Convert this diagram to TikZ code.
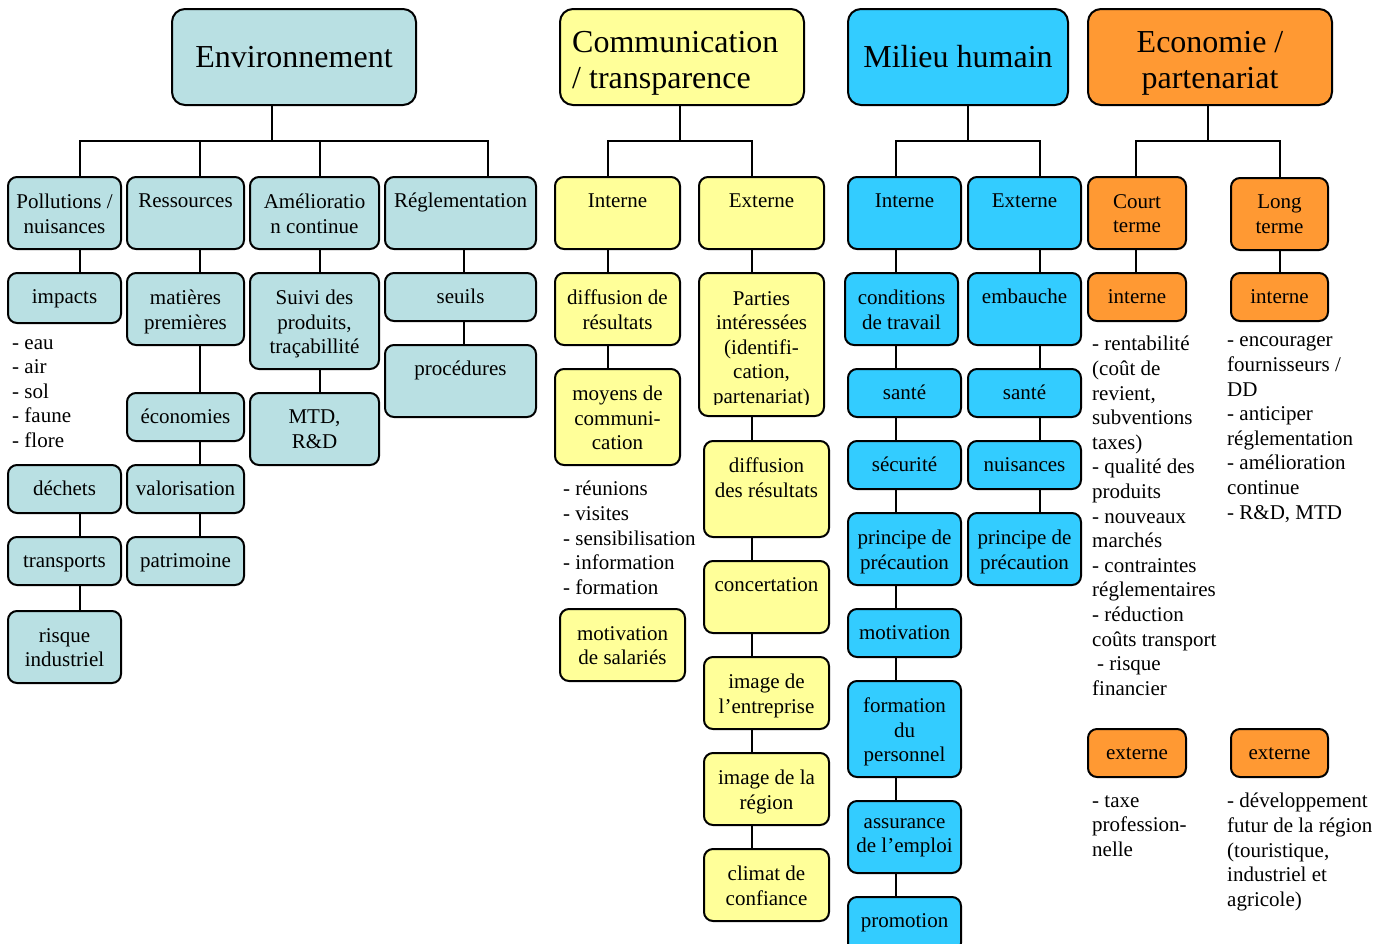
\documentclass[tikz,border=0pt]{standalone}
\usepackage{fontspec}
\setmainfont{Liberation Serif}
\definecolor{envc}{RGB}{185,224,227}
\definecolor{comc}{RGB}{255,255,153}
\definecolor{milc}{RGB}{51,204,255}
\definecolor{ecoc}{RGB}{255,153,51}
% #1 text yshift, #2 name, #3 style, #4 x1, #5 y1, #6 x2, #7 y2, #8 text
\newcommand\mybox[8][17]{%
  \pgfmathsetmacro\mbw{#6-#4}%
  \pgfmathsetmacro\mbh{#7-#5}%
  \node[#3, minimum width=\mbw pt, minimum height=\mbh pt] (#2) at ({(#4+#6)/2},{(#5+#7)/2}) {};%
  \node[txt, anchor=north] (#2t) at ([yshift=-#1pt]#2.north) {#8};%
}
\begin{document}
\begin{tikzpicture}[x=1pt,y=-1pt,
  box/.style={draw=black, line width=2pt, rounded corners=9pt, rectangle, outer sep=0pt, inner sep=0pt},
  eb/.style={box, fill=envc},
  yb/.style={box, fill=comc},
  cb/.style={box, fill=milc},
  ob/.style={box, fill=ecoc},
  tb/.style={rounded corners=13pt},
  txt/.style={align=center, inner sep=0pt, font=\fontsize{21}{24.5}\selectfont, execute at begin node=\strut},
  ttl/.style={align=center, inner sep=0pt, font=\fontsize{32}{36}\selectfont, execute at begin node=\strut},
  lst/.style={align=left, inner sep=0pt, anchor=north west, font=\fontsize{21}{24.6}\selectfont, execute at begin node=\strut},
  conn/.style={line width=2pt, draw=black}]
\useasboundingbox (0,0) rectangle (1389,943);

% column x positions
\coordinate (cA) at (80,0);
\coordinate (cB) at (200,0);
\coordinate (cC) at (320,0);
\coordinate (cD) at (464,0);
\coordinate (cDD) at (488,0);
\coordinate (cE) at (608,0);
\coordinate (cF) at (752,0);
\coordinate (cG) at (896,0);
\coordinate (cH) at (1040,0);
\coordinate (cI) at (1136,0);
\coordinate (cJ) at (1280,0);
% bus junctions
\coordinate (envb) at (272,141);
\coordinate (comb) at (680,141);
\coordinate (milb) at (968,141);
\coordinate (ecob) at (1208,141);

% ---------- titles ----------
\node[eb, tb, minimum width=244pt, minimum height=96pt] (env) at (294,57) {};
\node[ttl, anchor=north] (envt) at ([yshift=-33pt]env.north) {Environnement};
\node[yb, tb, minimum width=244pt, minimum height=96pt] (com) at (682,57) {};
\node[ttl, align=left, anchor=north west] (comt) at ([xshift=12pt,yshift=-22.5pt]com.north west) {Communication\\/ transparence};
\node[cb, tb, minimum width=220pt, minimum height=96pt] (mil) at (958,57) {};
\node[ttl, anchor=north] (milt) at ([yshift=-33pt]mil.north) {Milieu humain};
\node[ob, tb, minimum width=244pt, minimum height=96pt] (ecb) at (1210,57) {};
\node[ttl, anchor=north] (ecbt) at ([yshift=-22.5pt]ecb.north) {Economie /\\partenariat};

% ---------- Environnement ----------
\mybox{pol}{eb}{8}{177}{121}{249}{Pollutions /\\nuisances}
\mybox[13]{res}{eb}{127}{177}{244}{249}{Ressources}
\mybox{ame}{eb}{250}{177}{379}{249}{Amélioratio\\n continue}
\mybox[13]{reg}{eb}{385}{177}{536}{249}{Réglementation}
\mybox[13]{imp}{eb}{8}{273}{121}{323}{impacts}
\mybox[13]{dec}{eb}{8}{465}{121}{513}{déchets}
\mybox[13]{tra}{eb}{8}{537}{121}{585}{transports}
\mybox{ris}{eb}{8}{611}{121}{683}{risque\\industriel}
\mybox{mat}{eb}{127}{273}{244}{345}{matières\\premières}
\mybox[13]{ecn}{eb}{127}{393}{244}{441}{économies}
\mybox[13]{val}{eb}{127}{465}{244}{513}{valorisation}
\mybox[13]{pat}{eb}{127}{537}{244}{585}{patrimoine}
\mybox{sui}{eb}{250}{273}{379}{369}{Suivi des\\produits,\\traçabillité}
\mybox{mtd}{eb}{250}{393}{379}{465}{MTD,\\R\&D}
\mybox[13]{seu}{eb}{385}{273}{536}{321}{seuils}
\mybox[13]{pro}{eb}{385}{345}{536}{417}{procédures}
\node[lst] (l1) at (12,339) {- eau\\- air\\- sol\\- faune\\- flore};

% ---------- Communication ----------
\mybox[13]{cin}{yb}{555}{177}{680}{249}{Interne}
\mybox[13]{cex}{yb}{699}{177}{824}{249}{Externe}
\mybox{dif}{yb}{555}{273}{680}{345}{diffusion de\\résultats}
\mybox{moy}{yb}{555}{369}{680}{465}{moyens de\\communi-\\cation}
\mybox{mot}{yb}{560}{609}{685}{681}{motivation\\de salariés}
\node[yb, minimum width=125pt, minimum height=143pt] (par) at (761.5,344.5) {};
\begin{scope}
  \clip ([yshift=12pt]par.south west) rectangle (par.north east);
  \node[txt, anchor=north] (part) at ([yshift=-18pt]par.north) {Parties\\intéressées\\(identifi-\\cation,\\partenariat)};
\end{scope}
\mybox{drs}{yb}{704}{441}{829}{537}{diffusion\\des résultats}
\mybox[13]{con}{yb}{704}{561}{829}{633}{concertation}
\mybox{ime}{yb}{704}{657}{829}{729}{image de\\l’entreprise}
\mybox{imr}{yb}{704}{753}{829}{825}{image de la\\région}
\mybox{cli}{yb}{704}{849}{829}{921}{climat de\\confiance}
\node[lst] (l2) at (563,481) {- réunions\\- visites\\- sensibilisation\\- information\\- formation};

% ---------- Milieu humain ----------
\mybox[13]{min}{cb}{848}{177}{961}{249}{Interne}
\mybox[13]{mex}{cb}{968}{177}{1081}{249}{Externe}
\mybox{cdt}{cb}{845}{273}{958}{345}{conditions\\de travail}
\mybox[13]{sa1}{cb}{848}{369}{961}{417}{santé}
\mybox[13]{sec}{cb}{848}{441}{961}{489}{sécurité}
\mybox{pp1}{cb}{848}{513}{961}{585}{principe de\\précaution}
\mybox[13]{mov}{cb}{848}{609}{961}{657}{motivation}
\mybox{fdp}{cb}{848}{681}{961}{777}{formation\\du\\personnel}
\mybox{ass}{cb}{848}{801}{961}{873}{assurance\\de l’emploi}
\mybox[13]{prm}{cb}{848}{897}{961}{952}{promotion}
\mybox[13]{emb}{cb}{968}{273}{1081}{345}{embauche}
\mybox[13]{sa2}{cb}{968}{369}{1081}{417}{santé}
\mybox[13]{nui}{cb}{968}{441}{1081}{489}{nuisances}
\mybox{pp2}{cb}{968}{513}{1081}{585}{principe de\\précaution}

% ---------- Economie ----------
\mybox{crt}{ob}{1088}{177}{1186}{249}{Court\\terme}
\mybox{lng}{ob}{1231}{178}{1328}{250}{Long\\terme}
\mybox[13]{in1}{ob}{1088}{273}{1186}{321}{interne}
\mybox[13]{in2}{ob}{1231}{273}{1328}{321}{interne}
\mybox[13]{ex1}{ob}{1088}{729}{1186}{777}{externe}
\mybox[13]{ex2}{ob}{1231}{729}{1328}{777}{externe}
\node[lst] (l3) at (1092,336) {- rentabilité\\(coût de\\revient,\\subventions\\taxes)\\- qualité des\\produits\\- nouveaux\\marchés\\- contraintes\\réglementaires\\- réduction\\coûts transport\\\hspace*{5pt}- risque\\financier};
\node[lst] (l4) at (1227,336) {- encourager\\fournisseurs /\\DD\\- anticiper\\réglementation\\- amélioration\\continue\\- R\&D, MTD};
\node[lst] (l5) at (1092,795) {- taxe\\profession-\\nelle};
\node[lst] (l6) at (1227,793) {- développement\\futur de la région\\(touristique,\\industriel et\\agricole)};

% ---------- connectors ----------
\draw[conn] (env.south -| envb) -- (envb);
\draw[conn] (envb) -| (pol.north -| cA);
\draw[conn] (envb) -| (res.north -| cB);
\draw[conn] (envb) -| (ame.north -| cC);
\draw[conn] (envb) -| (reg.north -| cDD);
\foreach \a/\b in {pol/imp,dec/tra,tra/ris} \draw[conn] (\a.south -| cA) -- (\b.north -| cA);
\foreach \a/\b in {res/mat,mat/ecn,ecn/val,val/pat} \draw[conn] (\a.south -| cB) -- (\b.north -| cB);
\foreach \a/\b in {ame/sui,sui/mtd} \draw[conn] (\a.south -| cC) -- (\b.north -| cC);
\foreach \a/\b in {reg/seu,seu/pro} \draw[conn] (\a.south -| cD) -- (\b.north -| cD);

\draw[conn] (com.south -| comb) -- (comb);
\draw[conn] (comb) -| (cin.north -| cE);
\draw[conn] (comb) -| (cex.north -| cF);
\foreach \a/\b in {cin/dif,dif/moy} \draw[conn] (\a.south -| cE) -- (\b.north -| cE);
\foreach \a/\b in {cex/par,par/drs,drs/con,con/ime,ime/imr,imr/cli} \draw[conn] (\a.south -| cF) -- (\b.north -| cF);

\draw[conn] (mil.south -| milb) -- (milb);
\draw[conn] (milb) -| (min.north -| cG);
\draw[conn] (milb) -| (mex.north -| cH);
\foreach \a/\b in {min/cdt,cdt/sa1,sa1/sec,sec/pp1,pp1/mov,mov/fdp,fdp/ass,ass/prm} \draw[conn] (\a.south -| cG) -- (\b.north -| cG);
\foreach \a/\b in {mex/emb,emb/sa2,sa2/nui,nui/pp2} \draw[conn] (\a.south -| cH) -- (\b.north -| cH);

\draw[conn] (ecb.south -| ecob) -- (ecob);
\draw[conn] (ecob) -| (crt.north -| cI);
\draw[conn] (ecob) -| (lng.north -| cJ);
\draw[conn] (crt.south -| cI) -- (in1.north -| cI);
\draw[conn] (lng.south -| cJ) -- (in2.north -| cJ);
\end{tikzpicture}
\end{document}
